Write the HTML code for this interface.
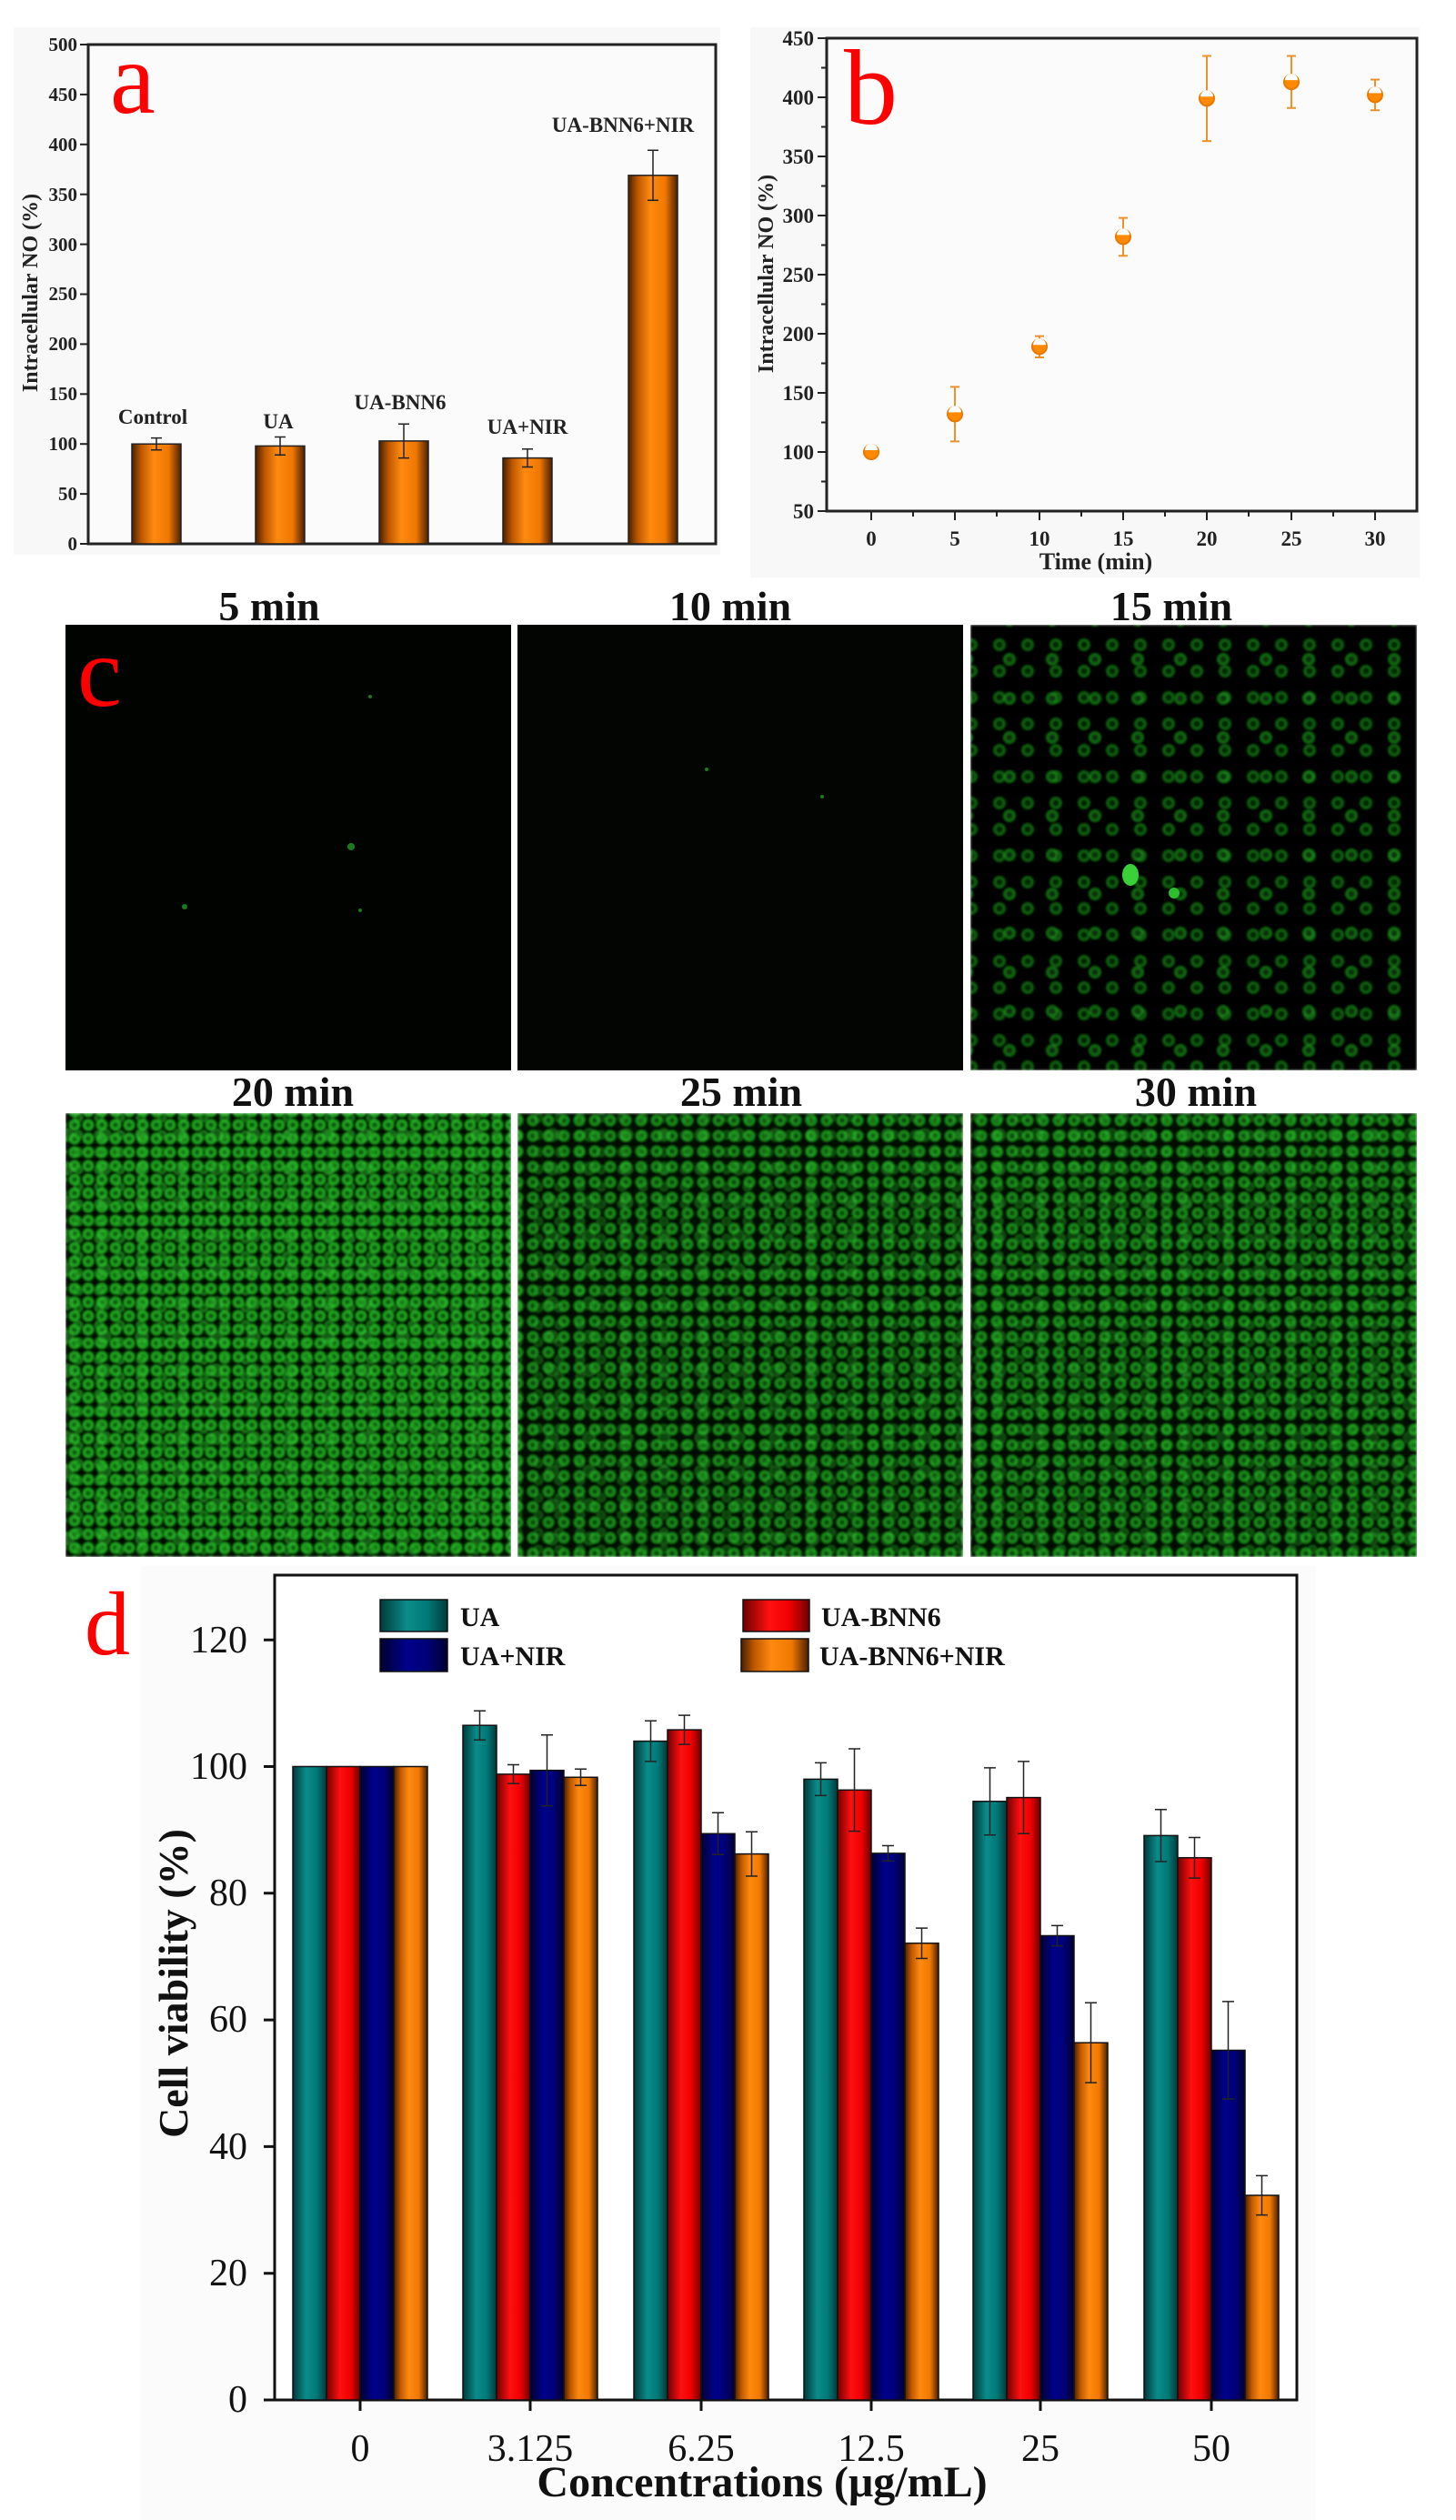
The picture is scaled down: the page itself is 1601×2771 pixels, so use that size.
<!DOCTYPE html>
<html><head><meta charset="utf-8"><style>
html,body{margin:0;padding:0;background:#fff;}
svg{display:block;}
text{font-family:"Liberation Serif","DejaVu Serif",serif;}
</style></head><body>
<svg width="1601" height="2771" viewBox="0 0 1601 2771" xmlns="http://www.w3.org/2000/svg">
<defs>
<linearGradient id="go" x1="0" x2="1" y1="0" y2="0"><stop offset="0" stop-color="#4a2000"/><stop offset="0.2" stop-color="#c05a00"/><stop offset="0.45" stop-color="#ff8a10"/><stop offset="0.75" stop-color="#f07800"/><stop offset="1" stop-color="#4a2000"/></linearGradient>
<linearGradient id="gt" x1="0" x2="1"><stop offset="0" stop-color="#003a3a"/><stop offset="0.4" stop-color="#0a8c8a"/><stop offset="0.7" stop-color="#007a78"/><stop offset="1" stop-color="#003a3a"/></linearGradient>
<linearGradient id="gr" x1="0" x2="1"><stop offset="0" stop-color="#700000"/><stop offset="0.4" stop-color="#ff1010"/><stop offset="0.7" stop-color="#f00000"/><stop offset="1" stop-color="#700000"/></linearGradient>
<linearGradient id="gn" x1="0" x2="1"><stop offset="0" stop-color="#000030"/><stop offset="0.4" stop-color="#00008c"/><stop offset="0.7" stop-color="#000078"/><stop offset="1" stop-color="#000030"/></linearGradient>
<pattern id="c1" width="15" height="15" patternUnits="userSpaceOnUse"><circle cx="7" cy="7" r="4.5" fill="#0b5a0b" stroke="#22b022" stroke-width="2.5"/></pattern>
<pattern id="c2" width="23" height="19" patternUnits="userSpaceOnUse" x="6" y="4"><circle cx="11" cy="9" r="4" fill="#1a8a1a" stroke="#2ccc2c" stroke-width="2"/></pattern>
<pattern id="c5" width="41" height="37" patternUnits="userSpaceOnUse" x="13" y="9"><circle cx="20" cy="18" r="6" fill="#25a525" stroke="#38d838" stroke-width="2"/></pattern>
<pattern id="c3" width="31" height="29" patternUnits="userSpaceOnUse"><circle cx="14" cy="13" r="5" fill="#062e06" stroke="#1a8a1a" stroke-width="2"/></pattern>
<pattern id="c6" width="47" height="43" patternUnits="userSpaceOnUse" x="9" y="17"><circle cx="20" cy="20" r="5" fill="#083808" stroke="#1f9a1f" stroke-width="2"/></pattern>
<pattern id="c4" width="17" height="17" patternUnits="userSpaceOnUse"><circle cx="8" cy="8" r="4.5" fill="#094809" stroke="#1c961c" stroke-width="2.5"/></pattern>
<filter id="bl" x="0" y="0" width="1" height="1"><feGaussianBlur stdDeviation="1.3"/></filter>
</defs>
<rect width="1601" height="2771" fill="#fff"/>

<!-- Panel a -->
<rect x="15" y="30" width="777" height="580" fill="#f8f8f8"/>
<rect x="97" y="49" width="690" height="549" fill="#fbfbfb" stroke="#222" stroke-width="3"/>
<g stroke="#222" stroke-width="2">
<line x1="88" y1="598" x2="97" y2="598"/><line x1="88" y1="543.1" x2="97" y2="543.1"/><line x1="88" y1="488.2" x2="97" y2="488.2"/><line x1="88" y1="433.3" x2="97" y2="433.3"/><line x1="88" y1="378.4" x2="97" y2="378.4"/><line x1="88" y1="323.5" x2="97" y2="323.5"/><line x1="88" y1="268.6" x2="97" y2="268.6"/><line x1="88" y1="213.7" x2="97" y2="213.7"/><line x1="88" y1="158.8" x2="97" y2="158.8"/><line x1="88" y1="103.9" x2="97" y2="103.9"/><line x1="88" y1="49" x2="97" y2="49"/>
</g>
<g font-size="21" font-weight="bold" text-anchor="end" fill="#222">
<text x="85" y="605">0</text><text x="85" y="550">50</text><text x="85" y="495">100</text><text x="85" y="440">150</text><text x="85" y="385">200</text><text x="85" y="330">250</text><text x="85" y="276">300</text><text x="85" y="221">350</text><text x="85" y="166">400</text><text x="85" y="111">450</text><text x="85" y="56">500</text>
</g>
<text transform="translate(41,322) rotate(-90)" font-size="24" font-weight="bold" text-anchor="middle" fill="#222">Intracellular NO (%)</text>
<g stroke="#222" stroke-width="1.5">
<rect x="145" y="488.2" width="54" height="109.8" fill="url(#go)"/>
<rect x="281" y="490.4" width="54" height="107.6" fill="url(#go)"/>
<rect x="417" y="484.9" width="54" height="113.1" fill="url(#go)"/>
<rect x="553" y="503.6" width="54" height="94.4" fill="url(#go)"/>
<rect x="691" y="192.8" width="54" height="405.2" fill="url(#go)"/>
<path d="M172 481.6V494.8M166 481.6H178M166 494.8H178 M308 480.5V500.3M302 480.5H314M302 500.3H314 M444 466.2V503.6M438 466.2H450M438 503.6H450 M580 493.7V513.5M574 493.7H586M574 513.5H586 M718 165.3V220.3M712 165.3H724M712 220.3H724" fill="none"/>
</g>
<g font-size="23" font-weight="bold" text-anchor="middle" fill="#222">
<text x="168" y="466">Control</text><text x="306" y="471">UA</text><text x="440" y="450">UA-BNN6</text><text x="580" y="477">UA+NIR</text><text x="685" y="145">UA-BNN6+NIR</text>
</g>
<text x="121" y="124" font-size="112" fill="#f00">a</text>

<!-- Panel b -->
<rect x="825" y="30" width="736" height="605" fill="#f8f8f8"/>
<rect x="909" y="42" width="649" height="520" fill="#fbfbfb" stroke="#222" stroke-width="3"/>
<g stroke="#222" stroke-width="2">
<path d="M899 562H909M899 497H909M899 432H909M899 367H909M899 302H909M899 237H909M899 172H909M899 107H909M899 42H909"/>
<path d="M903 529.5H909M903 464.5H909M903 399.5H909M903 334.5H909M903 269.5H909M903 204.5H909M903 139.5H909M903 74.5H909"/>
<path d="M958 562V572M1050 562V572M1143 562V572M1235 562V572M1327 562V572M1420 562V572M1512 562V572"/>
<path d="M1004 562V568M1096 562V568M1189 562V568M1281 562V568M1373 562V568M1466 562V568"/>
</g>
<g font-size="23" font-weight="bold" text-anchor="end" fill="#222">
<text x="895" y="570">50</text><text x="895" y="505">100</text><text x="895" y="440">150</text><text x="895" y="375">200</text><text x="895" y="310">250</text><text x="895" y="245">300</text><text x="895" y="180">350</text><text x="895" y="115">400</text><text x="895" y="50">450</text>
</g>
<g font-size="23" font-weight="bold" text-anchor="middle" fill="#222">
<text x="958" y="600">0</text><text x="1050" y="600">5</text><text x="1143" y="600">10</text><text x="1235" y="600">15</text><text x="1327" y="600">20</text><text x="1420" y="600">25</text><text x="1512" y="600">30</text>
</g>
<text x="1205" y="626" font-size="26" font-weight="bold" text-anchor="middle" fill="#222">Time (min)</text>
<text transform="translate(850,301) rotate(-90)" font-size="24" font-weight="bold" text-anchor="middle" fill="#222">Intracellular NO (%)</text>
<g stroke="#f0902a" stroke-width="2" fill="none">
<path d="M958 490.5V503.5M953 490.5H963M953 503.5H963"/>
<path d="M1050 425.4V485.4M1045 425.4H1055M1045 485.4H1055"/>
<path d="M1143 369.6V393M1138 369.6H1148M1138 393H1148"/>
<path d="M1235 239.6V281.2M1230 239.6H1240M1230 281.2H1240"/>
<path d="M1327 61.5V155.1M1322 61.5H1332M1322 155.1H1332"/>
<path d="M1420 61.5V118.7M1415 61.5H1425M1415 118.7H1425"/>
<path d="M1512 87.5V121.3M1507 87.5H1517M1507 121.3H1517"/>
</g>
<g stroke="#e87800" stroke-width="2">
<g fill="#ff8a00">
<circle cx="958" cy="497" r="8"/><circle cx="1050" cy="455.4" r="8"/><circle cx="1143" cy="381.3" r="8"/><circle cx="1235" cy="260.4" r="8"/><circle cx="1327" cy="108.3" r="8"/><circle cx="1420" cy="90.1" r="8"/><circle cx="1512" cy="104.4" r="8"/>
</g>
</g>
<g fill="#fff">
<path d="M951 495a7 7 0 0 1 14 0z"/><path d="M1043 453.4a7 7 0 0 1 14 0z"/><path d="M1136 379.3a7 7 0 0 1 14 0z"/><path d="M1228 258.4a7 7 0 0 1 14 0z"/><path d="M1320 106.3a7 7 0 0 1 14 0z"/><path d="M1413 88.1a7 7 0 0 1 14 0z"/><path d="M1505 102.4a7 7 0 0 1 14 0z"/>
</g>
<text x="928" y="136" font-size="118" fill="#f00">b</text>

<!-- Panel c -->
<g font-size="46" font-weight="bold" text-anchor="middle" fill="#111">
<text x="296" y="682">5 min</text><text x="803" y="682">10 min</text><text x="1288" y="682">15 min</text>
<text x="322" y="1216">20 min</text><text x="815" y="1216">25 min</text><text x="1315" y="1216">30 min</text>
</g>
<rect x="72" y="687" width="490" height="490" fill="#010301"/>
<rect x="569" y="687" width="490" height="490" fill="#020502"/>
<g filter="url(#bl)">
<rect x="1067" y="687" width="491" height="490" fill="#010401"/>
<rect x="1067" y="687" width="491" height="490" fill="url(#c3)" opacity="0.8"/>
<rect x="1067" y="687" width="491" height="490" fill="url(#c6)" opacity="0.8"/>
</g>
<g fill="#1c7a1c">
<circle cx="407" cy="766" r="2"/><circle cx="386" cy="931" r="4"/><circle cx="203" cy="997" r="3"/><circle cx="396" cy="1001" r="2"/><circle cx="777" cy="846" r="2"/><circle cx="904" cy="876" r="2"/>
<ellipse cx="1243" cy="962" rx="9" ry="12" fill="#3ad03a"/><circle cx="1291" cy="982" r="6" fill="#2cc02c"/>
</g>
<g filter="url(#bl)">
<rect x="72" y="1224" width="490" height="488" fill="#020a02"/>
<rect x="72" y="1224" width="490" height="488" fill="url(#c1)"/>
<rect x="72" y="1224" width="490" height="488" fill="url(#c2)" opacity="0.6"/>
<rect x="72" y="1224" width="490" height="488" fill="url(#c5)" opacity="0.5"/>
</g>
<g filter="url(#bl)">
<rect x="569" y="1224" width="490" height="488" fill="#020802"/>
<rect x="569" y="1224" width="490" height="488" fill="url(#c4)"/>
<rect x="569" y="1224" width="490" height="488" fill="url(#c2)" opacity="0.4"/>
<rect x="569" y="1224" width="490" height="488" fill="url(#c5)" opacity="0.4"/>
</g>
<g filter="url(#bl)">
<rect x="1067" y="1224" width="491" height="488" fill="#020802"/>
<rect x="1067" y="1224" width="491" height="488" fill="url(#c4)"/>
<rect x="1067" y="1224" width="491" height="488" fill="url(#c2)" opacity="0.45"/>
<rect x="1067" y="1224" width="491" height="488" fill="url(#c5)" opacity="0.35"/>
</g>
<text x="85" y="776" font-size="110" fill="#f00">c</text>

<!-- Panel d -->
<rect x="155" y="1722" width="1292" height="1049" fill="#fbfbfb"/>
<rect x="302" y="1732" width="1124" height="907" fill="#fff" stroke="#111" stroke-width="3"/>
<g stroke="#111" stroke-width="3">
<path d="M290 2639H302M290 2499.7H302M290 2360.4H302M290 2221.1H302M290 2081.8H302M290 1942.5H302M290 1803.2H302"/>
<path d="M396 2639V2651M583 2639V2651M771 2639V2651M958 2639V2651M1144 2639V2651M1332 2639V2651"/>
</g>
<g font-size="42" text-anchor="end" fill="#111">
<text x="272" y="2652">0</text><text x="272" y="2513">20</text><text x="272" y="2374">40</text><text x="272" y="2234">60</text><text x="272" y="2095">80</text><text x="272" y="1956">100</text><text x="272" y="1817">120</text>
</g>
<g font-size="42" text-anchor="middle" fill="#111">
<text x="396" y="2706">0</text><text x="583" y="2706">3.125</text><text x="771" y="2706">6.25</text><text x="958" y="2706">12.5</text><text x="1144" y="2706">25</text><text x="1332" y="2706">50</text>
</g>
<text x="838" y="2745" font-size="48" font-weight="bold" text-anchor="middle" fill="#111">Concentrations (μg/mL)</text>
<text transform="translate(206,2181) rotate(-90)" font-size="46" font-weight="bold" text-anchor="middle" fill="#111">Cell viability (%)</text>
<text x="93" y="1819" font-size="100" fill="#f00">d</text>
<g stroke="#111" stroke-width="1.5">
<rect x="322" y="1942.5" width="37" height="696.5" fill="url(#gt)"/><rect x="359" y="1942.5" width="37" height="696.5" fill="url(#gr)"/><rect x="396" y="1942.5" width="37" height="696.5" fill="url(#gn)"/><rect x="433" y="1942.5" width="37" height="696.5" fill="url(#go)"/>
<rect x="509" y="1897.2" width="37" height="741.8" fill="url(#gt)"/><rect x="546" y="1950.9" width="37" height="688.1" fill="url(#gr)"/><rect x="583" y="1946.7" width="37" height="692.3" fill="url(#gn)"/><rect x="620" y="1954.3" width="37" height="684.7" fill="url(#go)"/>
<rect x="697" y="1914.6" width="37" height="724.4" fill="url(#gt)"/><rect x="734" y="1902.1" width="37" height="736.9" fill="url(#gr)"/><rect x="771" y="2016.3" width="37" height="622.7" fill="url(#gn)"/><rect x="808" y="2038.6" width="37" height="600.4" fill="url(#go)"/>
<rect x="884" y="1956.4" width="37" height="682.6" fill="url(#gt)"/><rect x="921" y="1968.3" width="37" height="670.7" fill="url(#gr)"/><rect x="958" y="2037.9" width="37" height="601.1" fill="url(#gn)"/><rect x="995" y="2136.8" width="37" height="502.2" fill="url(#go)"/>
<rect x="1070" y="1980.8" width="37" height="658.2" fill="url(#gt)"/><rect x="1107" y="1976.6" width="37" height="662.4" fill="url(#gr)"/><rect x="1144" y="2128.5" width="37" height="510.5" fill="url(#gn)"/><rect x="1181" y="2246.2" width="37" height="392.8" fill="url(#go)"/>
<rect x="1258" y="2018.4" width="37" height="620.6" fill="url(#gt)"/><rect x="1295" y="2042.8" width="37" height="596.2" fill="url(#gr)"/><rect x="1332" y="2254.5" width="37" height="384.5" fill="url(#gn)"/><rect x="1369" y="2414" width="37" height="225" fill="url(#go)"/>
</g>
<g stroke="#222" stroke-width="1.5" fill="none">
<path d="M527.5 1881.2V1913.2M521 1881.2H534M521 1913.2H534"/>
<path d="M564.5 1940.5V1961.3M558 1940.5H571M558 1961.3H571"/>
<path d="M601.5 1907.7V1985.7M595 1907.7H608M595 1985.7H608"/>
<path d="M638.5 1945.3V1963.3M632 1945.3H645M632 1963.3H645"/>
<path d="M715.5 1892.3V1936.9M709 1892.3H722M709 1936.9H722"/>
<path d="M752.5 1886.1V1918.1M746 1886.1H759M746 1918.1H759"/>
<path d="M789.5 1993.3V2039.3M783 1993.3H796M783 2039.3H796"/>
<path d="M826.5 2014.2V2063M820 2014.2H833M820 2063H833"/>
<path d="M902.5 1938.4V1974.4M896 1938.4H909M896 1974.4H909"/>
<path d="M939.5 1923V2013.6M933 1923H946M933 2013.6H946"/>
<path d="M976.5 2029.5V2046.3M970 2029.5H983M970 2046.3H983"/>
<path d="M1013.5 2120.1V2153.5M1007 2120.1H1020M1007 2153.5H1020"/>
<path d="M1088.5 1943.9V2017.7M1082 1943.9H1095M1082 2017.7H1095"/>
<path d="M1125.5 1936.9V2016.3M1119 1936.9H1132M1119 2016.3H1132"/>
<path d="M1162.5 2117.4V2139.6M1156 2117.4H1169M1156 2139.6H1169"/>
<path d="M1199.5 2202.3V2290.1M1193 2202.3H1206M1193 2290.1H1206"/>
<path d="M1276.5 1989.8V2047M1270 1989.8H1283M1270 2047H1283"/>
<path d="M1313.5 2020.5V2065.1M1307 2020.5H1320M1307 2065.1H1320"/>
<path d="M1350.5 2200.9V2308.1M1344 2200.9H1357M1344 2308.1H1357"/>
<path d="M1387.5 2392.4V2435.6M1381 2392.4H1394M1381 2435.6H1394"/>
</g>
<g stroke="#111" stroke-width="1.5">
<rect x="418" y="1759" width="74" height="35" fill="url(#gt)"/>
<rect x="418" y="1802" width="74" height="36" fill="url(#gn)"/>
<rect x="817" y="1759" width="73" height="35" fill="url(#gr)"/>
<rect x="815" y="1802" width="74" height="36" fill="url(#go)"/>
</g>
<g font-size="30" font-weight="bold" fill="#111">
<text x="506" y="1788">UA</text><text x="506" y="1831">UA+NIR</text><text x="903" y="1788">UA-BNN6</text><text x="901" y="1831">UA-BNN6+NIR</text>
</g>
</svg>
</body></html>
